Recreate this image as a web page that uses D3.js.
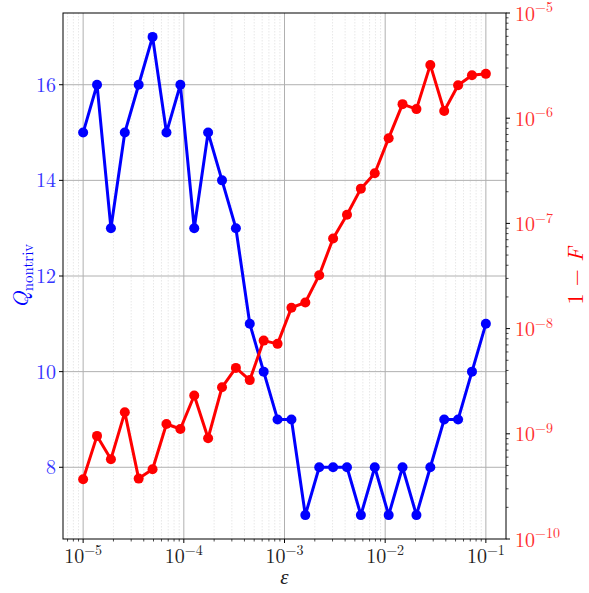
<!DOCTYPE html>
<html><head><meta charset="utf-8">
<script src="https://cdn.jsdelivr.net/npm/d3@7"></script>
<style>
body{margin:0;background:#fff;}
text{font-family:"Latin Modern Roman","Liberation Serif","DejaVu Serif",serif;}
</style></head>
<body><svg id="c" width="589" height="593"></svg>
<script>
const eps = [1.000e-5,1.374e-5,1.888e-5,2.593e-5,3.562e-5,4.894e-5,6.723e-5,9.237e-5,1.269e-4,1.743e-4,
  2.395e-4,3.290e-4,4.520e-4,6.210e-4,8.532e-4,1.172e-3,1.610e-3,2.212e-3,3.039e-3,4.175e-3,
  5.736e-3,7.880e-3,1.083e-2,1.487e-2,2.043e-2,2.807e-2,3.857e-2,5.298e-2,7.279e-2,1.000e-1];
const qNontriv = [15,16,13,15,16,17,15,16,13,15,14,13,11,10,9,9,7,8,8,8,7,8,7,8,7,8,9,9,10,11];
const infidelity = [3.70e-10,9.55e-10,5.74e-10,1.60e-9,3.75e-10,4.60e-10,1.24e-9,1.11e-9,2.31e-9,9.08e-10,
  2.77e-9,4.23e-9,3.24e-9,7.69e-9,7.16e-9,1.58e-8,1.77e-8,3.22e-8,7.18e-8,1.21e-7,
  2.14e-7,3.00e-7,6.46e-7,1.36e-6,1.22e-6,3.21e-6,1.17e-6,2.06e-6,2.56e-6,2.64e-6];
const xTickExps = [-5,-4,-3,-2,-1];
const qTicks = [8,10,12,14,16];
const fTickExps = [-10,-9,-8,-7,-6,-5];

const L=63, R=506, T=13, B=539;
const svg = d3.select("#c");
const lx0 = Math.log10(d3.min(eps)), lx1 = Math.log10(d3.max(eps)), pad=(lx1-lx0)*0.05;
const x = d3.scaleLog().domain([10**(lx0-pad), 10**(lx1+pad)]).range([L,R]);
const yL = d3.scaleLinear().domain([6.5,17.5]).range([B,T]);
const yR = d3.scaleLog().domain([1e-10,1e-5]).range([B,T]);

const xMinor=[], xMajor=[];
for(let e=-6;e<=0;e++){ for(let k=1;k<10;k++){ const v=k*10**e; if(v>=x.domain()[0]&&v<=x.domain()[1]){ (k===1?xMajor:xMinor).push(v);} } }
const g = svg.append("g");
g.selectAll(".mg").data(xMinor).join("line").attr("x1",d=>x(d)).attr("x2",d=>x(d)).attr("y1",T).attr("y2",B)
  .attr("stroke","#e2e2e2").attr("stroke-width",0.8).attr("stroke-dasharray","1.5,1.5");
g.selectAll(".Mg").data(xMajor).join("line").attr("x1",d=>x(d)).attr("x2",d=>x(d)).attr("y1",T).attr("y2",B)
  .attr("stroke","#b0b0b0").attr("stroke-width",1);
g.selectAll(".hg").data(qTicks).join("line").attr("x1",L).attr("x2",R).attr("y1",d=>yL(d)).attr("y2",d=>yL(d))
  .attr("stroke","#b0b0b0").attr("stroke-width",1);

function series(vals, yScale, color){
  const pts = eps.map((e,i)=>[x(e), yScale(vals[i])]);
  svg.append("path").attr("d", d3.line()(pts)).attr("fill","none").attr("stroke",color).attr("stroke-width",3).attr("stroke-linejoin","round");
  svg.append("g").selectAll("circle").data(pts).join("circle").attr("cx",d=>d[0]).attr("cy",d=>d[1]).attr("r",5).attr("fill",color);
}
series(qNontriv, yL, "#0000ff");
series(infidelity, yR, "#ff0000");

svg.append("rect").attr("x",L).attr("y",T).attr("width",R-L).attr("height",B-T).attr("fill","none").attr("stroke","#000").attr("stroke-width",1);

svg.append("g").selectAll("line").data(xMajor).join("line").attr("x1",d=>x(d)).attr("x2",d=>x(d)).attr("y1",B).attr("y2",B+4).attr("stroke","#000");
svg.append("g").selectAll("line").data(xMinor).join("line").attr("x1",d=>x(d)).attr("x2",d=>x(d)).attr("y1",B).attr("y2",B+2.5).attr("stroke","#000").attr("stroke-width",0.7);
function pow10(sel, e, fs){
  sel.append("tspan").text("10");
  sel.append("tspan").attr("dy",-fs*0.42).attr("font-size",fs*0.7).text("\u2212"+Math.abs(e));
}
xTickExps.forEach(e=>{
  const t = svg.append("text").attr("x",x(10**e)).attr("y",563).attr("text-anchor","middle").attr("font-size",20).attr("fill","#222");
  pow10(t,e,20);
});
svg.append("text").attr("x",(L+R)/2).attr("y",584).attr("text-anchor","middle").attr("font-size",21).attr("font-style","italic").attr("fill","#222").text("\u03b5");

svg.append("g").selectAll("line").data(qTicks).join("line").attr("x1",L-4).attr("x2",L).attr("y1",d=>yL(d)).attr("y2",d=>yL(d)).attr("stroke","#000");
svg.append("g").selectAll("text").data(qTicks).join("text").attr("x",L-7).attr("y",d=>yL(d)+7).attr("text-anchor","end")
  .attr("font-size",20).attr("fill","#3535ff").text(d=>d);
const ql = svg.append("text").attr("transform",`translate(28,${(T+B)/2}) rotate(-90)`).attr("text-anchor","middle").attr("font-size",22).attr("fill","#0000ff");
ql.append("tspan").attr("font-style","italic").text("Q");
ql.append("tspan").attr("dy",5).attr("font-size",15).text("nontriv");

const fMinor=[];
for(let e=-10;e<-5;e++){ for(let k=2;k<10;k++) fMinor.push(k*10**e); }
svg.append("g").selectAll("line").data(fTickExps).join("line").attr("x1",R).attr("x2",R+4).attr("y1",d=>yR(10**d)).attr("y2",d=>yR(10**d)).attr("stroke","#000");
svg.append("g").selectAll("line").data(fMinor).join("line").attr("x1",R).attr("x2",R+2.5).attr("y1",d=>yR(d)).attr("y2",d=>yR(d)).attr("stroke","#000").attr("stroke-width",0.7);
fTickExps.forEach(e=>{
  const t = svg.append("text").attr("x",R+9).attr("y",yR(10**e)+7.5).attr("text-anchor","start").attr("font-size",20).attr("fill","#ff3030");
  pow10(t,e,20);
});
const fl = svg.append("text").attr("transform",`translate(583,${(T+B)/2}) rotate(-90)`).attr("text-anchor","middle").attr("font-size",22).attr("fill","#ff0000");
fl.append("tspan").text("1 \u2212 ");
fl.append("tspan").attr("font-style","italic").text("F");
</script></body></html>
